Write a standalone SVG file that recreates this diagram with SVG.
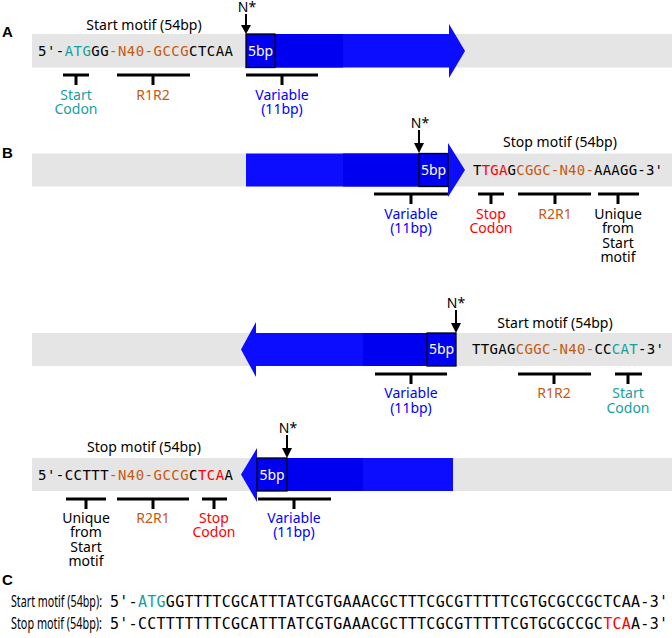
<svg xmlns="http://www.w3.org/2000/svg" width="672" height="638" viewBox="0 0 672 638">
<style>
text{font-family:"Noto Sans","Open Sans","DejaVu Sans",sans-serif;font-size:14px;fill:#000}
.pl{font-family:"Liberation Sans",Arial,sans-serif;font-weight:bold;font-size:15px}
.seq{font-family:"DejaVu Sans Mono","Liberation Mono",monospace;font-size:14px}
.cs{font-family:"DejaVu Sans Mono","Liberation Mono",monospace;font-size:15px}
.cl{font-size:15.5px}
.lb{text-anchor:middle}
.gray{fill:#e5e5e5}
.arr{fill:#0c0cff}
.dk{fill:#0000f0}
.box{fill:#0000f0;stroke:#000;stroke-width:1.3}
.w{fill:#fff;text-anchor:middle}
.br{stroke:#000;stroke-width:3;fill:none}
.nl{stroke:#000;stroke-width:2;fill:none}
.t{fill:#17a0a0}.o{fill:#c55a11}.r{fill:#ff0000}.b{fill:#0000ff}
</style>
<text class="pl" x="2" y="37">A</text>
<text class="pl" x="2" y="158">B</text>
<text class="pl" x="2" y="585">C</text>

<g id="rowA">
<rect class="gray" x="32" y="34" width="640" height="33.5"/>
<polygon class="arr" points="246,34 449,34 449,24 465,51 449,78 449,67.5 246,67.5"/>
<rect class="dk" x="246" y="34" width="97" height="33.5"/>
<rect class="box" x="246" y="34" width="29" height="33.5"/>
<text class="w" x="260.5" y="56">5bp</text>
<text class="lb" x="144" y="30">Start motif (54bp)</text>
<text class="seq" x="38" y="56" textLength="195" lengthAdjust="spacing">5'-<tspan class="t">ATG</tspan>GG<tspan class="o">-N40-GCCG</tspan>CTCAA</text>
<text class="lb" x="247" y="12">N*</text>
<path class="nl" d="M246,14V26"/><polygon points="241,25 251,25 246,34"/>
<path class="br" d="M63,75H89M76,75V85M117,75H190M153,75V85M246,75H318M282,75V85"/>
<text class="lb t" x="76" y="100">Start</text><text class="lb t" x="76" y="114">Codon</text>
<text class="lb o" x="153" y="100">R1R2</text>
<text class="lb b" x="282" y="100">Variable</text><text class="lb b" x="282" y="114">(11bp)</text>
</g>

<g id="rowB1">
<rect class="gray" x="32" y="153.5" width="640" height="33"/>
<polygon class="arr" points="246,153.5 448,153.5 448,143 465,170 448,197 448,186.5 246,186.5"/>
<rect class="dk" x="343" y="153.5" width="105" height="33"/>
<rect class="box" x="419" y="153.5" width="29" height="33"/>
<text class="w" x="433.5" y="175">5bp</text>
<text class="lb" x="560" y="147">Stop motif (54bp)</text>
<text class="seq" x="473" y="175" textLength="190" lengthAdjust="spacing">T<tspan class="r">TGA</tspan>G<tspan class="o">CGGC-N40-</tspan>AAAGG-3'</text>
<text class="lb" x="420" y="128">N*</text>
<path class="nl" d="M419,130V144"/><polygon points="414,143 424,143 419,153"/>
<path class="br" d="M374,194H448M411,194V204M478,194H504M491,194V204M518,194H591M555,194V204M598,194H639M618,194V204"/>
<text class="lb b" x="411" y="219">Variable</text><text class="lb b" x="411" y="233">(11bp)</text>
<text class="lb r" x="491" y="219">Stop</text><text class="lb r" x="491" y="233">Codon</text>
<text class="lb o" x="555" y="219">R2R1</text>
<text class="lb" x="618" y="219">Unique</text><text class="lb" x="618" y="233">from</text><text class="lb" x="618" y="248">Start</text><text class="lb" x="618" y="262">motif</text>
</g>

<g id="rowB2">
<rect class="gray" x="32" y="333" width="640" height="33"/>
<polygon class="arr" points="456,333 256,333 256,322 241,349.5 256,377 256,366 456,366"/>
<rect class="dk" x="363" y="333" width="93" height="33"/>
<rect class="box" x="427" y="333" width="29" height="33"/>
<text class="w" x="441.5" y="354">5bp</text>
<text class="lb" x="555" y="328">Start motif (54bp)</text>
<text class="seq" x="472" y="354" textLength="192" lengthAdjust="spacing">TTGAG<tspan class="o">CGGC-N40-</tspan>CC<tspan class="t">CAT</tspan>-3'</text>
<text class="lb" x="456" y="308">N*</text>
<path class="nl" d="M456,310V324"/><polygon points="451,323 461,323 456,333"/>
<path class="br" d="M375,374H447M411,374V384M518,374H591M554,374V384M615,374H642M628,374V384"/>
<text class="lb b" x="411" y="398">Variable</text><text class="lb b" x="411" y="413">(11bp)</text>
<text class="lb o" x="554" y="398">R1R2</text>
<text class="lb t" x="628" y="398">Start</text><text class="lb t" x="628" y="413">Codon</text>
</g>

<g id="rowB3">
<rect class="gray" x="32" y="458" width="640" height="33"/>
<polygon class="arr" points="453,458 257,458 257,448 241,474.5 257,502 257,491 453,491"/>
<rect class="dk" x="257" y="458" width="106" height="33"/>
<rect class="box" x="257" y="458" width="30" height="33"/>
<text class="w" x="272" y="480">5bp</text>
<text class="lb" x="144" y="452">Stop motif (54bp)</text>
<text class="seq" x="38" y="480" textLength="195" lengthAdjust="spacing">5'-CCTTT<tspan class="o">-N40-GCCG</tspan>C<tspan class="r">TCA</tspan>A</text>
<text class="lb" x="288" y="433">N*</text>
<path class="nl" d="M287,435V449"/><polygon points="282,448 292,448 287,458"/>
<path class="br" d="M66,499H106M86,499V509M117,499H189M153,499V509M202,499H227M214,499V509M258,499H331M294,499V509"/>
<text class="lb" x="86" y="523">Unique</text><text class="lb" x="86" y="537">from</text><text class="lb" x="86" y="552">Start</text><text class="lb" x="86" y="566">motif</text>
<text class="lb o" x="153" y="523">R2R1</text>
<text class="lb r" x="214" y="523">Stop</text><text class="lb r" x="214" y="537">Codon</text>
<text class="lb b" x="294" y="523">Variable</text><text class="lb b" x="294" y="537">(11bp)</text>
</g>

<g id="panelC">
<text class="cl" x="11" y="607" textLength="91" lengthAdjust="spacingAndGlyphs">Start motif (54bp):</text>
<text class="cs" x="110" y="607" textLength="558" lengthAdjust="spacing">5'-<tspan class="t">ATG</tspan>GGTTTTCGCATTTATCGTGAAACGCTTTCGCGTTTTTCGTGCGCCGCTCAA-3'</text>
<text class="cl" x="11" y="629" textLength="91" lengthAdjust="spacingAndGlyphs">Stop motif (54bp):</text>
<text class="cs" x="110" y="629" textLength="558" lengthAdjust="spacing">5'-CCTTTTTTTCGCATTTATCGTGAAACGCTTTCGCGTTTTTCGTGCGCCGC<tspan class="r">TCA</tspan>A-3'</text>
</g>
</svg>
